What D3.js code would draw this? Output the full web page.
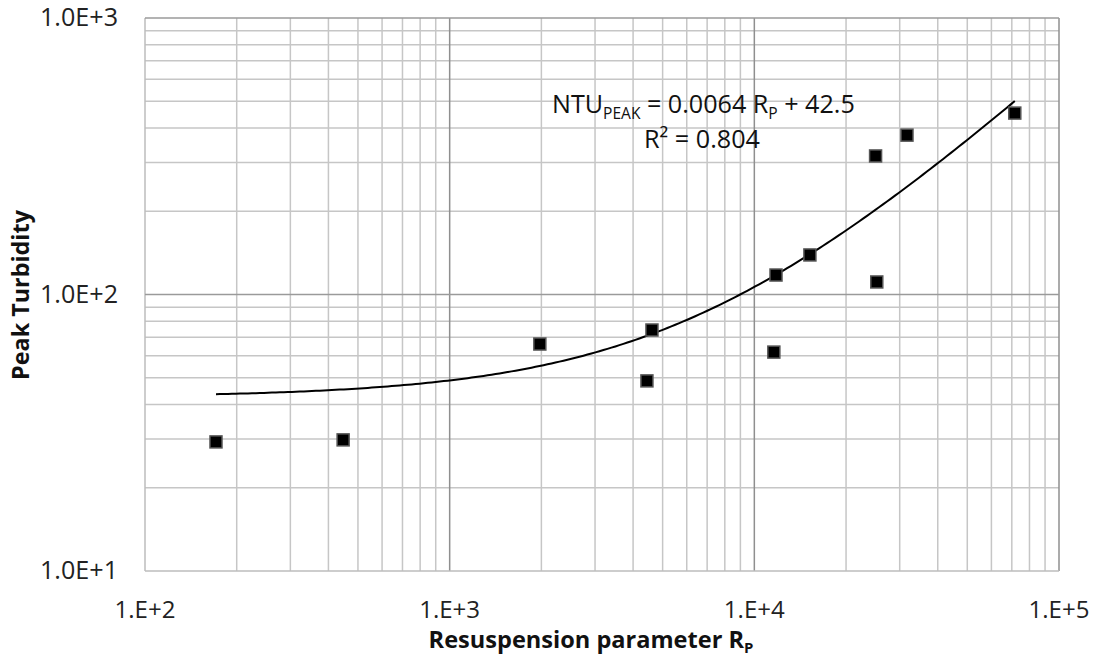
<!DOCTYPE html>
<html><head><meta charset="utf-8">
<script src="https://cdn.jsdelivr.net/npm/d3@7"></script>
<style>body{margin:0;background:#fff;} svg{display:block;}</style>
</head><body>
<svg id="c" width="1096" height="658"></svg>
<script>
const rpValues = [171, 447, 1977, 4441, 4613, 11780, 11590, 15220, 25230, 25000, 31700, 71600];
const turbidityValues = [29.3, 29.8, 66.2, 48.7, 74.4, 117.6, 61.9, 139, 111, 317, 377, 453];
const xTickValues = [1e2, 1e3, 1e4, 1e5];
const xTickLabels = ["1.E+2", "1.E+3", "1.E+4", "1.E+5"];
const yTickValues = [1e1, 1e2, 1e3];
const yTickLabels = ["1.0E+1", "1.0E+2", "1.0E+3"];
const trendSlope = 0.0064, trendIntercept = 42.5;
const trendRange = [171, 71600];

const svg = d3.select("#c");
const font = "'Open Sans', Lato, sans-serif";
const L = 145, R = 1059, T = 18, B = 571;
const x = d3.scaleLog().domain([1e2, 1e5]).range([L, R]);
const y = d3.scaleLog().domain([1e1, 1e3]).range([B, T]);

// scale a text element's font-size so its rendered width matches target
function fit(sel, target) {
  const node = sel.node();
  const w = node.getComputedTextLength ? node.getComputedTextLength() : node.getBBox().width;
  const fs = parseFloat(sel.attr("font-size"));
  const k = target / w;
  sel.attr("font-size", fs * k);
  sel.selectAll("tspan").each(function () {
    const t = d3.select(this);
    const f = t.attr("font-size");
    if (f) t.attr("font-size", parseFloat(f) * k);
    const dy = t.attr("dy");
    if (dy) t.attr("dy", parseFloat(dy) * k);
  });
}

// minor grid
const xMinor = [], yMinor = [];
for (let d = 2; d < 5; d++) for (let k = 2; k <= 9; k++) xMinor.push(k * Math.pow(10, d));
for (let d = 1; d < 3; d++) for (let k = 2; k <= 9; k++) yMinor.push(k * Math.pow(10, d));
const g = svg.append("g");
g.selectAll(".vx").data(xMinor).enter().append("line")
  .attr("x1", d => x(d)).attr("x2", d => x(d)).attr("y1", T).attr("y2", B)
  .attr("stroke", "#c6c6c6").attr("stroke-width", 1.5);
g.selectAll(".hy").data(yMinor).enter().append("line")
  .attr("y1", d => y(d)).attr("y2", d => y(d)).attr("x1", L).attr("x2", R)
  .attr("stroke", "#c6c6c6").attr("stroke-width", 1.5);
g.selectAll(".vM").data(xTickValues).enter().append("line")
  .attr("x1", d => x(d)).attr("x2", d => x(d)).attr("y1", T).attr("y2", B)
  .attr("stroke", d => (d === 1e2 ? "#bdbdbd" : "#8f8f8f")).attr("stroke-width", 1.5);
g.selectAll(".hM").data(yTickValues).enter().append("line")
  .attr("y1", d => y(d)).attr("y2", d => y(d)).attr("x1", L).attr("x2", R)
  .attr("stroke", d => (d === 1e1 ? "#bdbdbd" : "#9a9a9a")).attr("stroke-width", 1.5);

// tick labels
svg.selectAll(".xl").data(xTickValues).enter().append("text")
  .attr("x", d => x(d)).attr("y", 618).attr("text-anchor", "middle")
  .attr("font-family", font).attr("font-size", 20).attr("fill", "#222")
  .text((d, i) => xTickLabels[i])
  .each(function () { fit(d3.select(this), 61); });
svg.selectAll(".yl").data(yTickValues).enter().append("text")
  .attr("x", 118).attr("y", d => y(d) + 8).attr("text-anchor", "end")
  .attr("font-family", font).attr("font-size", 20).attr("fill", "#222")
  .text((d, i) => yTickLabels[i])
  .each(function () { fit(d3.select(this), 78); });

// axis titles
const xt = svg.append("text").attr("x", 591).attr("y", 648).attr("text-anchor", "middle")
  .attr("font-family", font).attr("font-size", 19).attr("font-weight", "bold").attr("fill", "#111");
xt.append("tspan").text("Resuspension parameter R");
xt.append("tspan").attr("font-size", 12).attr("dy", 4).text("P");
fit(xt, 325);
const yt = svg.append("text").attr("transform", "translate(29,295) rotate(-90)").attr("text-anchor", "middle")
  .attr("font-family", font).attr("font-size", 19).attr("font-weight", "bold").attr("fill", "#111")
  .text("Peak Turbidity");
fit(yt, 170);

// trendline
const lx0 = Math.log10(trendRange[0]), lx1 = Math.log10(trendRange[1]);
const trend = d3.range(0, 201).map(i => {
  const xv = Math.pow(10, lx0 + (lx1 - lx0) * i / 200);
  return [xv, trendSlope * xv + trendIntercept];
});
svg.append("path").datum(trend)
  .attr("d", d3.line().x(d => x(d[0])).y(d => y(d[1])))
  .attr("fill", "none").attr("stroke", "#000").attr("stroke-width", 2);

// points
const s = 12;
svg.selectAll(".pt").data(rpValues).enter().append("rect")
  .attr("x", d => x(d) - s / 2).attr("y", (d, i) => y(turbidityValues[i]) - s / 2)
  .attr("width", s).attr("height", s)
  .attr("fill", "#000").attr("stroke", "#555").attr("stroke-width", 1.5);

// equation
const eq = svg.append("text").attr("x", 552).attr("y", 113)
  .attr("font-family", font).attr("font-size", 21).attr("fill", "#111");
eq.append("tspan").text("NTU");
eq.append("tspan").attr("font-size", 13).attr("dy", 5).text("PEAK");
eq.append("tspan").attr("dy", -5).text(" = 0.0064 R");
eq.append("tspan").attr("font-size", 13).attr("dy", 5).text("P");
eq.append("tspan").attr("dy", -5).text(" + 42.5");
fit(eq, 303);
const r2 = svg.append("text").attr("x", 702).attr("y", 148).attr("text-anchor", "middle")
  .attr("font-family", font).attr("font-size", 21).attr("fill", "#111")
  .text("R² = 0.804");
fit(r2, 116);
</script>
</body></html>
